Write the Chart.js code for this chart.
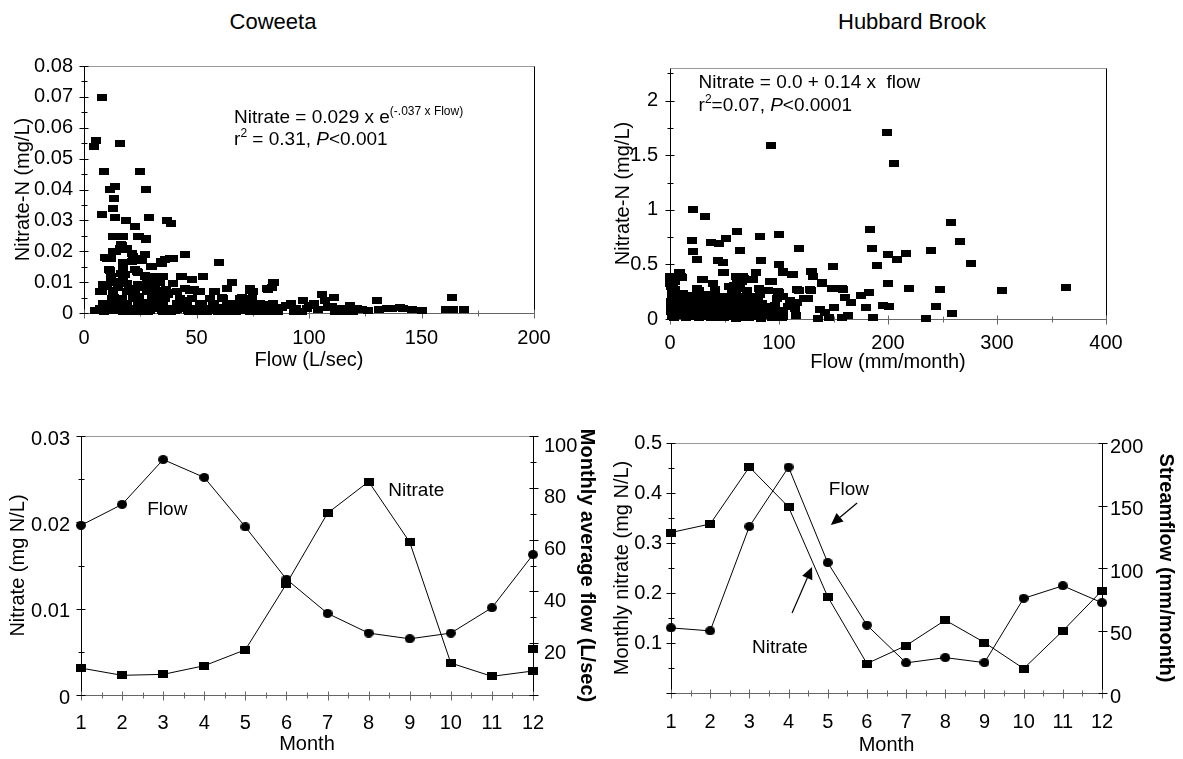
<!DOCTYPE html>
<html><head><meta charset="utf-8">
<script src="https://cdn.jsdelivr.net/npm/chart.js@4.4.1/dist/chart.umd.min.js"></script>
<style>
html,body{margin:0;padding:0;background:#fff;}
#wrap{position:relative;width:1183px;height:759px;overflow:hidden;background:#fff;}
canvas{position:absolute;}
.title{position:absolute;width:240px;text-align:center;font-family:"Liberation Sans",Arial,sans-serif;font-size:22px;line-height:24px;color:#000;}
</style></head><body>
<div id="wrap">
<div class="title" style="left:153px;top:10px">Coweeta</div>
<div class="title" style="left:792px;top:10px">Hubbard Brook</div>
<canvas id="c1" width="570" height="340" style="left:0px;top:40px"></canvas>
<canvas id="c2" width="593" height="340" style="left:590px;top:40px"></canvas>
<canvas id="c3" width="600" height="359" style="left:0px;top:400px"></canvas>
<canvas id="c4" width="583" height="359" style="left:600px;top:400px"></canvas>
</div>
<script>
// ---------- DATA ----------
// Coweeta: flow (L/sec) vs nitrate-N (mg/L)
const cwFlow = [7.9,4.3,5.5,16.2,8.7,25.0,27.7,11.6,13.8,13.2,12.7,8.1,13.8,29.0,18.7,22.7,36.8,38.8,13.2,17.1,24.3,27.4,16.6,18.5,14.3,10.0,11.9,21.4,23.0,26.9,25.7,17.4,34.1,35.9,39.5,44.7,59.8,29.8,11.1,22.7,23.8,16.6,18.4,26.9,43.3,52.8,34.6,48.0,65.8,84.5,83.7,81.3,12.2,15.1,16.6,28.0,31.7,33.3,57.9,63.4,73.7,49.1,44.9,51.5,41.2,7.1,8.7,10.0,15.1,19.8,23.8,25.8,28.1,32.5,36.5,37.2,13.5,12.7,22.2,24.6,32.2,42.8,45.2,61.3,70.2,74.5,105.9,111.0,97.5,107.3,130.4,163.7,9.2,16.6,26.9,32.2,52.3,57.9,73.7,82.2,89.6,102.2];
const cwNitrate = [0.0699,0.0539,0.0558,0.055,0.0458,0.0458,0.0399,0.0399,0.041,0.0372,0.034,0.0318,0.031,0.031,0.030,0.028,0.030,0.029,0.0248,0.0248,0.0248,0.024,0.0221,0.0205,0.020,0.0178,0.0178,0.0192,0.0178,0.0189,0.017,0.0162,0.0167,0.0172,0.0178,0.0189,0.0162,0.0151,0.014,0.014,0.0131,0.0129,0.0124,0.0119,0.0119,0.0119,0.0119,0.0108,0.0099,0.0099,0.0084,0.0078,0.0108,0.0097,0.0102,0.0102,0.0097,0.0102,0.007,0.0079,0.0078,0.0075,0.0078,0.007,0.007,0.007,0.0086,0.0092,0.0081,0.0078,0.0081,0.0084,0.0075,0.007,0.0075,0.0059,0.0049,0.0054,0.0049,0.0054,0.0049,0.0041,0.0041,0.0049,0.0049,0.0041,0.0059,0.0049,0.0041,0.0041,0.0041,0.0049,0.0032,0.0032,0.0034,0.0032,0.003,0.0027,0.0027,0.0027,0.0024,0.003];
const cwFlowMid = [12.7,17.5,24.1,27.6,16.7,16.0,9.3,13.0,19.0,21.9,27.1,24.9,30.1,34.5,38.2,17.2,21.2,11.6,17.5,23.4,27.1,11.8,17.2,30.1,35.2,43.4,48.1,53.0,8.6,13.8,19.0,24.1,28.6,33.8,39.4,7.9,13.0,19.0,22.7,27.9,32.3,36.8,41.2,47.1,50.8,58.2,63.4,65.6,73.8,75.2,81.9,84.1];
const cwNitrateMid = [0.0247,0.0247,0.0247,0.0239,0.022,0.021,0.0179,0.0199,0.021,0.0182,0.0188,0.0169,0.015,0.0161,0.0177,0.0161,0.0168,0.0137,0.0137,0.0134,0.0123,0.0118,0.0118,0.0118,0.0118,0.0118,0.0109,0.0118,0.0091,0.0098,0.0096,0.0091,0.0098,0.0098,0.0096,0.0069,0.0074,0.0069,0.0066,0.0069,0.0072,0.0066,0.0069,0.0074,0.0069,0.0069,0.008,0.0098,0.0072,0.0069,0.0077,0.0098];
const cwFlowLow = [7.1,10.3,15.1,19.0,22.2,26.2,30.1,33.3,37.2,41.2,45.2,49.1,53.1,57.1,61.0,65.0,68.2,72.1,76.1,80.0,84.0,88.0,94.3,99.1,103.8,108.6,113.3,117.3,121.3,123.6,134.7,137.1,140.3,141.9,145.8,160.9,164.0,168.8,4.8,8.7,12.7,17.4,20.6,24.6,28.5,34.9,38.8,46.8,50.7,54.7,59.4,63.4,67.4,73.7,77.7,81.6,86.4,93.5,96.7,111.7,115.7,119.7,
  12.3,16.8,21.9,30.1,36.0,42.7,47.9,56.0,61.9,69.3,74.5,
  8.6,13.0,19.0,24.1,29.3,35.2,41.2,45.6,51.6,57.5,63.4,67.9,72.3,78.2,84.1,
  10.1,15.2,20.4,26.4,32.3,38.2,44.1,50.1,56.0,61.9,67.9,73.8,79.7,85.6,
  7.9,13.0,18.2,23.4,29.3,34.5,40.4,46.4,52.3,58.2,64.1,70.1,76.0,81.9,
  92.0,100.0,110.0,118.0,126.0,131.0,150.0];
const cwNitrateLow = [0.0016,0.0022,0.0013,0.0019,0.0011,0.0016,0.0022,0.0013,0.0016,0.0011,0.0019,0.0013,0.0016,0.0011,0.0019,0.0013,0.0016,0.0011,0.0019,0.0013,0.0016,0.0019,0.0013,0.0016,0.0011,0.0019,0.0013,0.0016,0.0013,0.0011,0.0016,0.0013,0.0019,0.0016,0.0011,0.0011,0.0011,0.0011,0.0009,0.0005,0.0009,0.0005,0.0004,0.0006,0.0004,0.0006,0.0004,0.0006,0.0004,0.0005,0.0004,0.0006,0.0004,0.0005,0.0006,0.0004,0.0005,0.0006,0.0004,0.0006,0.0004,0.0005,
  0.0048,0.0048,0.0048,0.0048,0.0048,0.0048,0.0048,0.0048,0.0048,0.0048,0.0048,
  0.0031,0.0031,0.0031,0.0031,0.0031,0.0031,0.0031,0.0031,0.0031,0.0031,0.0031,0.0031,0.0031,0.0031,0.0031,
  0.0015,0.0015,0.0015,0.0015,0.0015,0.0015,0.0015,0.0015,0.0015,0.0015,0.0015,0.0015,0.0015,0.0015,
  0.0007,0.0007,0.0007,0.0007,0.0007,0.0007,0.0007,0.0007,0.0007,0.0007,0.0007,0.0007,0.0007,0.0007,
  0.003,0.0025,0.0022,0.0025,0.0009,0.0012,0.0009];

// Hubbard Brook: flow (mm/month) vs nitrate-N (mg/L)
const hbFlow = [199.4,92.5,205.6,21.3,31.8,258.1,183.6,61.3,100.0,82.6,51.5,20.3,37.7,45.2,265.6,63.9,21.3,118.0,185.3,239.4,200.3,216.4,208.2,24.6,43.6,48.2,83.6,100.0,276.4,149.2,189.5,8.2,10.5,49.2,78.7,103.3,111.5,129.5,131.2,2.3,29.5,60.7,67.9,75.4,93.4,139.4,200.3,0.5,3.3,26.2,41.0,59.0,63.9,70.5,100.0,118.0,129.5,149.2,159.0,175.4,182.6,219.0,247.6,304.9,363.3,11.5,21.3,32.8,47.5,80.3,98.4,109.8,123.0,160.7,165.6,116.4,195.8,200.7,179.7,244.2,150.9,137.7,142.6,114.8,90.2,103.3,86.9,73.8,63.9,50.8,39.3,27.9,18.0,8.2,4.9,1.0,1.0,4.9,13.1,24.6,34.4,44.3,55.7,67.2,78.7,93.4,102.6,115.7,136.1,145.9,157.4,163.0,186.2,235.1,258.4,8.2,16.4,26.2,37.7,49.2,60.7,72.1,83.6,21.3,31.1,42.6,52.5,62.3,70.5,80.3,3.3,2.3,6.6,14.8,23.0,32.8,42.6,55.7,65.6,75.4,3.3,2.3,1.0,11.5,19.7,37.7,55.7,60.7,67.2,90.2,103.3,126.2,39.3,54.1,82.0,108.2];
const hbNitrate = [1.709,1.587,1.427,0.999,0.943,0.885,0.821,0.799,0.775,0.760,0.738,0.723,0.698,0.692,0.708,0.631,0.622,0.646,0.646,0.631,0.594,0.600,0.548,0.548,0.533,0.515,0.533,0.502,0.508,0.484,0.493,0.423,0.386,0.423,0.423,0.432,0.410,0.432,0.386,0.386,0.361,0.386,0.371,0.361,0.340,0.331,0.325,0.325,0.263,0.263,0.263,0.309,0.279,0.263,0.239,0.257,0.263,0.279,0.270,0.217,0.239,0.276,0.270,0.263,0.285,0.233,0.217,0.208,0.202,0.208,0.187,0.172,0.187,0.196,0.147,0.147,0.126,0.119,0.104,0.119,0.104,0.086,0.064,0.095,0.110,0.080,0.064,0.086,0.104,0.110,0.126,0.141,0.156,0.172,0.202,0.141,0.080,0.110,0.126,0.080,0.064,0.049,0.043,0.034,0.025,0.018,0.012,0.028,0.009,0.018,0.012,0.028,0.012,0.009,0.049,0.034,0.025,0.018,0.012,0.018,0.009,0.018,0.009,0.049,0.034,0.080,0.064,0.049,0.064,0.080,0.018,0.049,0.064,0.095,0.110,0.104,0.141,0.126,0.141,0.126,0.172,0.248,0.294,0.187,0.178,0.187,0.202,0.233,0.202,0.263,0.208,0.187,0.325,0.294,0.279,0.110];
const hbFlowDense = [0,9.2,10.7,30,48.9,62.7,67.2,78.9,76.4,104,112.6,130,131.5,0,4.6,24.5,41.3,56.6,61.2,65.8,76.4,82.6,91.7,99.4,116.2,128.4,139.1,148.3,157.5,1,3,2,5,
  2,8,14,20,27,33,40,46,53,60,66,72,
  1,6,12,18,24,30,37,43,50,56,63,70,77,84,
  2,8,14,21,27,34,40,47,54,60,67,74,81,88,96,
  1,7,13,19,26,32,39,45,52,58,65,72,79,86,93,100,
  2,9,15,22,28,35,41,48,55,61,68,75,82,89,97,104];
const hbNitrateDense = [0.388,0.425,0.383,0.364,0.425,0.383,0.394,0.425,0.364,0.425,0.404,0.434,0.388,0.327,0.266,0.282,0.266,0.25,0.327,0.342,0.358,0.229,0.342,0.25,0.266,0.272,0.327,0.282,0.282,0.35,0.3,0.23,0.34,
  0.21,0.2,0.215,0.195,0.205,0.22,0.2,0.19,0.21,0.2,0.185,0.205,
  0.16,0.15,0.165,0.155,0.17,0.15,0.16,0.145,0.165,0.155,0.16,0.15,0.165,0.14,
  0.115,0.12,0.105,0.115,0.125,0.11,0.12,0.105,0.115,0.12,0.11,0.1,0.115,0.105,0.12,
  0.07,0.06,0.075,0.065,0.07,0.06,0.075,0.065,0.07,0.06,0.07,0.065,0.075,0.06,0.07,0.065,
  0.02,0.03,0.015,0.025,0.02,0.03,0.015,0.025,0.02,0.03,0.015,0.025,0.02,0.03,0.015,0.025];

// Monthly means
const months = [1,2,3,4,5,6,7,8,9,10,11,12];
const cwMonthlyNitrate = [0.00312,0.00228,0.00239,0.00339,0.00524,0.01288,0.02106,0.02472,0.0177,0.0037,0.00216,0.00278];
const cwMonthlyFlow = [65.5,73.6,90.9,84.0,64.9,44.7,31.5,23.9,21.7,23.9,33.7,54.2];
const cwExtraMonth = [12];
const cwExtraNitrate = [0.0053];
const hbMonthlyNitrate = [0.321,0.338,0.452,0.372,0.1925,0.0588,0.0949,0.1457,0.101,0.0488,0.1243,0.205];
const hbMonthlyFlow = [52.1,49.7,133.2,180.7,104.3,54.3,24.1,28.3,24.3,75.7,85.8,72.2];

// ---------- HELPERS ----------
const FONT = '"Liberation Sans", Arial, sans-serif';
Chart.defaults.font.family = FONT;
Chart.defaults.font.size = 20;
Chart.defaults.color = '#000';

function pts(xs, ys){ return xs.map((x,i)=>({x:x, y:ys[i]})); }
function marker(w,h,round){
  const c=document.createElement('canvas'); c.width=w; c.height=h;
  const g=c.getContext('2d'); g.fillStyle='#000';
  if(round){ g.beginPath(); g.ellipse(w/2,h/2,w/2,h/2,0,0,Math.PI*2); g.fill(); }
  else g.fillRect(0,0,w,h);
  return c;
}
const isMult = (v, s) => Math.abs(v/s - Math.round(v/s)) < 1e-6;
function axis(o){
  return {
    type:'linear', position:o.pos, min:o.min, max:o.max,
    grid:{display:false, drawTicks:false},
    border:{display:false},
    ticks:{stepSize:o.step, autoSkip:false, includeBounds:false, padding:o.pad, labelOffset:o.lo||0, maxRotation:0, minRotation:0,
      color:'#000', font:{size:20},
      callback:(v)=>{ if(!isMult(v,o.every)) return ''; if(o.skipZero && Math.abs(v)<1e-9) return ''; return String(parseFloat(v.toFixed(4))); }},
    title:{display:!!o.title, text:o.title, color:'#000', font:{size:20, weight:o.bold?'bold':'normal'}, padding:{top:o.tpad, bottom:o.tpad}},
    afterFit:(s)=>{ if(s.isHorizontal()) s.height=o.size; else s.width=o.size; },
    afterBuildTicks:(s)=>{ s.ticks = s.ticks.filter(t=>isMult(t.value,o.step)); }
  };
}

const framePlugin = {
  id:'frame',
  beforeDatasetsDraw(chart){
    const o = chart.options.plugins.frame; if(!o) return;
    const ctx = chart.ctx, a = chart.chartArea;
    const L=Math.round(a.left)+0.5, R=Math.round(a.right)+0.5, T=Math.round(a.top)+0.5, B=Math.round(a.bottom)+0.5;
    ctx.save(); ctx.lineWidth=1;
    const seg=(x1,y1,x2,y2,c)=>{ctx.strokeStyle=c;ctx.beginPath();ctx.moveTo(x1,y1);ctx.lineTo(x2,y2);ctx.stroke();};
    seg(L,T,R,T,o.top); seg(R,T,R,B,o.right); seg(L,B,R,B,o.bottom); seg(L,T,L,B,o.left);
    Object.keys(chart.scales).forEach(id=>{
      const s = chart.scales[id]; const every = o.major[id];
      s.ticks.forEach(t=>{
        const p = Math.round(s.getPixelForValue(t.value))+0.5;
        const m = isMult(t.value, every);
        const out = m?5:3, inn = m?4:3;
        if(s.position==='bottom') seg(p,B-inn,p,B+out,o.bottom);
        else if(s.position==='left') seg(L-out,p,L+inn,p,o.left);
        else if(s.position==='right') seg(R-inn,p,R+out,p,o.right);
      });
    });
    ctx.restore();
  }
};
const notesPlugin = {
  id:'notes',
  afterDatasetsDraw(chart){
    const o = chart.options.plugins.notes; if(!o) return;
    const ctx = chart.ctx, xs = chart.scales.x, ys = chart.scales.y;
    ctx.save(); ctx.fillStyle='#000'; ctx.strokeStyle='#000'; ctx.textBaseline='middle'; ctx.textAlign='left';
    const fontOf = p => (p.italic?'italic ':'')+(p.size||19)+'px '+FONT;
    (o.texts||[]).forEach(n=>{
      let x = xs.getPixelForValue(n.x); const y = ys.getPixelForValue(n.y);
      const parts = n.parts.map(p=> typeof p==='string' ? {t:p} : p);
      let w=0; parts.forEach(p=>{ctx.font=fontOf(p); w+=ctx.measureText(p.t).width;});
      if(n.align==='center') x -= w/2;
      parts.forEach(p=>{ctx.font=fontOf(p); ctx.fillText(p.t, x, y+(p.dy||0)); x+=ctx.measureText(p.t).width;});
    });
    (o.arrows||[]).forEach(a=>{
      const x1=xs.getPixelForValue(a.x1), y1=ys.getPixelForValue(a.y1), x2=xs.getPixelForValue(a.x2), y2=ys.getPixelForValue(a.y2);
      const ang=Math.atan2(y2-y1,x2-x1), hl=12, hw=5.5;
      const bx=x2-hl*Math.cos(ang), by=y2-hl*Math.sin(ang);
      ctx.lineWidth=1.2; ctx.beginPath(); ctx.moveTo(x1,y1); ctx.lineTo(bx,by); ctx.stroke();
      ctx.beginPath(); ctx.moveTo(x2,y2);
      ctx.lineTo(bx+hw*Math.sin(ang), by-hw*Math.cos(ang));
      ctx.lineTo(bx-hw*Math.sin(ang), by+hw*Math.cos(ang));
      ctx.closePath(); ctx.fill();
    });
    ctx.restore();
  }
};
Chart.register(framePlugin, notesPlugin);

const scatterMark = marker(10,7,false);
const sqMark = marker(10,8,false);
const dotMark = marker(10,9,true);
const frameColors = {top:'#999', right:'#000', bottom:'#666', left:'#000'};
const base = {responsive:false, animation:false, events:[], devicePixelRatio:1};

// ---------- PANEL 1: Coweeta scatter ----------
new Chart(document.getElementById('c1'), {
  type:'scatter',
  data:{datasets:[{data:pts(cwFlow.concat(cwFlowMid, cwFlowLow), cwNitrate.concat(cwNitrateMid, cwNitrateLow)), pointStyle:scatterMark, pointRadius:5, clip:false}]},
  options:Object.assign({}, base, {
    layout:{padding:{top:26,right:36,left:0,bottom:0}},
    scales:{
      x:axis({pos:'bottom',min:0,max:200,step:25,every:50,pad:13,size:67,title:'Flow (L/sec)',tpad:8}),
      y:axis({pos:'left',min:0,max:0.08,step:0.005,every:0.01,pad:11,size:84,title:'Nitrate-N (mg/L)',tpad:11})
    },
    plugins:{legend:{display:false}, tooltip:{enabled:false},
      frame:Object.assign({major:{x:50,y:0.01}}, frameColors),
      notes:{texts:[
        {x:66.7, y:0.0632, parts:['Nitrate = 0.029 x e', {t:'(-.037 x Flow)', size:12, dy:-6}]},
        {x:66.7, y:0.0562, parts:['r', {t:'2', size:12, dy:-6}, ' = 0.31, ', {t:'P', italic:true}, '<0.001']}
      ]}
    }
  })
});

// ---------- PANEL 2: Hubbard Brook scatter ----------
new Chart(document.getElementById('c2'), {
  type:'scatter',
  data:{datasets:[{data:pts(hbFlow.concat(hbFlowDense), hbNitrate.concat(hbNitrateDense)), pointStyle:scatterMark, pointRadius:5, clip:false}]},
  options:Object.assign({}, base, {
    layout:{padding:{top:28,right:77,left:0,bottom:0}},
    scales:{
      x:axis({pos:'bottom',min:0,max:400,step:50,every:100,pad:12,size:61,title:'Flow (mm/month)',tpad:6}),
      y:axis({pos:'left',min:0,max:2.3,step:0.25,every:0.5,pad:12,size:80,title:'Nitrate-N (mg/L)',tpad:21})
    },
    plugins:{legend:{display:false}, tooltip:{enabled:false},
      frame:Object.assign({major:{x:100,y:0.5}}, frameColors),
      notes:{texts:[
        {x:26.2, y:2.165, parts:['Nitrate = 0.0 + 0.14 x  flow']},
        {x:26.2, y:1.954, parts:['r', {t:'2', size:12, dy:-6}, '=0.07, ', {t:'P', italic:true}, '<0.0001']}
      ]}
    }
  })
});

// ---------- PANEL 3: Coweeta monthly ----------
new Chart(document.getElementById('c3'), {
  type:'scatter',
  data:{datasets:[
    {data:pts(months, cwMonthlyFlow), yAxisID:'y2', showLine:true, borderColor:'#000', borderWidth:1, pointStyle:dotMark, pointRadius:5, clip:false},
    {data:pts(months, cwMonthlyNitrate), yAxisID:'y', showLine:true, borderColor:'#000', borderWidth:1, pointStyle:sqMark, pointRadius:5, clip:false},
    {data:pts(cwExtraMonth, cwExtraNitrate), yAxisID:'y', showLine:false, pointStyle:sqMark, pointRadius:5, clip:false}
  ]},
  options:Object.assign({}, base, {
    layout:{padding:{top:36,right:0,left:0,bottom:0}},
    scales:{
      x:axis({pos:'bottom',min:1,max:12,step:0.5,every:1,pad:16,size:64,title:'Month',tpad:3}),
      y:axis({pos:'left',min:0,max:0.03,step:0.005,every:0.01,pad:11,size:81,lo:3,title:'Nitrate (mg N/L)',tpad:6}),
      y2:axis({pos:'right',min:0,max:100,step:10,every:20,skipZero:true,pad:11,size:67,lo:10,title:'Monthly average flow (L/sec)',tpad:1,bold:true})
    },
    plugins:{legend:{display:false}, tooltip:{enabled:false},
      frame:Object.assign({major:{x:1,y:0.01,y2:20}}, frameColors),
      notes:{texts:[
        {x:3.10, y:0.0214, align:'center', parts:['Flow']},
        {x:9.16, y:0.0237, align:'center', parts:['Nitrate']}
      ]}
    }
  })
});

// ---------- PANEL 4: Hubbard Brook monthly ----------
new Chart(document.getElementById('c4'), {
  type:'scatter',
  data:{datasets:[
    {data:pts(months, hbMonthlyFlow), yAxisID:'y2', showLine:true, borderColor:'#000', borderWidth:1, pointStyle:dotMark, pointRadius:5, clip:false},
    {data:pts(months, hbMonthlyNitrate), yAxisID:'y', showLine:true, borderColor:'#000', borderWidth:1, pointStyle:sqMark, pointRadius:5, clip:false}
  ]},
  options:Object.assign({}, base, {
    layout:{padding:{top:43,right:0,left:0,bottom:0}},
    scales:{
      x:axis({pos:'bottom',min:1,max:12,step:0.5,every:1,pad:17,size:66,title:'Month',tpad:2}),
      y:axis({pos:'left',min:0,max:0.5,step:0.05,every:0.1,skipZero:true,pad:9,size:71,title:'Monthly nitrate (mg N/L)',tpad:10}),
      y2:axis({pos:'right',min:0,max:200,step:50,every:50,pad:8,size:81,lo:4,title:'Streamflow (mm/month)',tpad:5,bold:true})
    },
    plugins:{legend:{display:false}, tooltip:{enabled:false},
      frame:Object.assign({major:{x:1,y:0.1,y2:50}}, frameColors),
      notes:{
        texts:[
          {x:5.54, y:0.406, align:'center', parts:['Flow']},
          {x:3.78, y:0.09, align:'center', parts:['Nitrate']}
        ],
        arrows:[
          {x1:5.75, y1:0.38, x2:5.08, y2:0.336},
          {x1:4.09, y1:0.16, x2:4.60, y2:0.252}
        ]
      }
    }
  })
});
</script>
</body></html>
